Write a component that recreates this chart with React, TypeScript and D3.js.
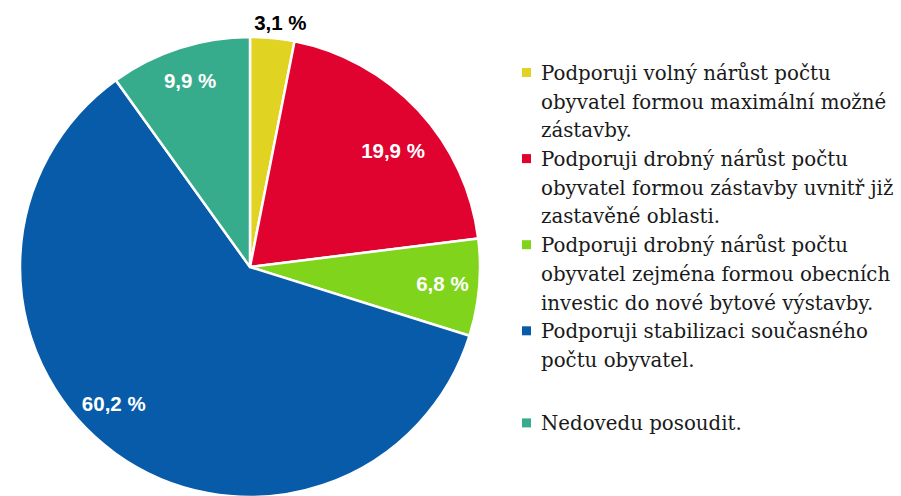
import React from 'react'
import * as d3 from 'd3'

const CATEGORIES = [
  'Podporuji volný nárůst počtu obyvatel formou maximální možné zástavby.',
  'Podporuji drobný nárůst počtu obyvatel formou zástavby uvnitř již zastavěné oblasti.',
  'Podporuji drobný nárůst počtu obyvatel zejména formou obecních investic do nové bytové výstavby.',
  'Podporuji stabilizaci současného počtu obyvatel.',
  'Nedovedu posoudit.'
]
const LEGEND_LINES = [
  ['Podporuji volný nárůst počtu', 'obyvatel formou maximální možné', 'zástavby.'],
  ['Podporuji drobný nárůst počtu', 'obyvatel formou zástavby uvnitř již', 'zastavěné oblasti.'],
  ['Podporuji drobný nárůst počtu', 'obyvatel zejména formou obecních', 'investic do nové bytové výstavby.'],
  ['Podporuji stabilizaci současného', 'počtu obyvatel.', ''],
  ['Nedovedu posoudit.']
]
const VALUES = [3.1, 19.9, 6.8, 60.2, 9.9]
const LABELS = ['3,1 %', '19,9 %', '6,8 %', '60,2 %', '9,9 %']
const COLORS = ['#e1d321', '#e0032f', '#80d41c', '#075ba9', '#37ac8c']

// label placement: radius as share of pie radius, angle nudge in degrees
const LABEL_R = [1.07, 0.8, 0.84, 0.84, 0.85]
const LABEL_DA = [1.5, 4, 0, 9, 0]

const W = 901
const H = 496

export default function App() {
  const cx = 250
  const cy = 267
  const radius = 230

  const pie = d3.pie<number>().value(d => d).sort(null)
  const arcs = pie(VALUES)
  const arc = d3.arc<d3.PieArcDatum<number>>().innerRadius(0).outerRadius(radius)

  const labelPos = (a: d3.PieArcDatum<number>, i: number) => {
    const ang = (a.startAngle + a.endAngle) / 2 + (LABEL_DA[i] * Math.PI) / 180
    const r = radius * LABEL_R[i]
    return [r * Math.sin(ang), -r * Math.cos(ang)]
  }

  const legendX = 522
  const lineH = 28.7
  let row = 0
  const legendRows = LEGEND_LINES.map((lines, i) => {
    const start = row
    row += lines.length
    // the last entry sits a little lower, after the blank line
    const extra = i === LEGEND_LINES.length - 1 ? 6 : 0
    return { start, lines, i, extra }
  })

  return (
    <svg width={W} height={H} style={{ position: 'absolute', left: 0, top: 0 }}>
      <rect width={W} height={H} fill="#ffffff" />
      <g transform={`translate(${cx},${cy})`}>
        {arcs.map((a, i) => (
          <path key={i} d={arc(a) || ''} fill={COLORS[i]} stroke="#ffffff" strokeWidth={2.5} strokeLinejoin="round" />
        ))}
        {arcs.map((a, i) => {
          const [x, y] = labelPos(a, i)
          return (
            <text
              key={'l' + i}
              x={x}
              y={y}
              dy="0.35em"
              textAnchor="middle"
              fontFamily="'Liberation Sans', Arial, sans-serif"
              fontWeight="bold"
              fontSize={20.5}
              fill={i === 0 ? '#000000' : '#ffffff'}
            >
              {LABELS[i]}
            </text>
          )
        })}
      </g>
      <g fontFamily="'DejaVu Serif', serif" fontSize={19.8} fill="#1a1a1a">
        {legendRows.map(({ start, lines, i, extra }) => (
          <g key={i}>
            <title>{CATEGORIES[i]}</title>
            <rect x={legendX} y={68 + start * lineH + extra} width={9} height={9} fill={COLORS[i]} />
            {lines.map((ln, j) => (
              <text key={j} x={legendX + 19} y={73 + (start + j) * lineH + extra} dy="0.35em">
                {ln}
              </text>
            ))}
          </g>
        ))}
      </g>
    </svg>
  )
}
